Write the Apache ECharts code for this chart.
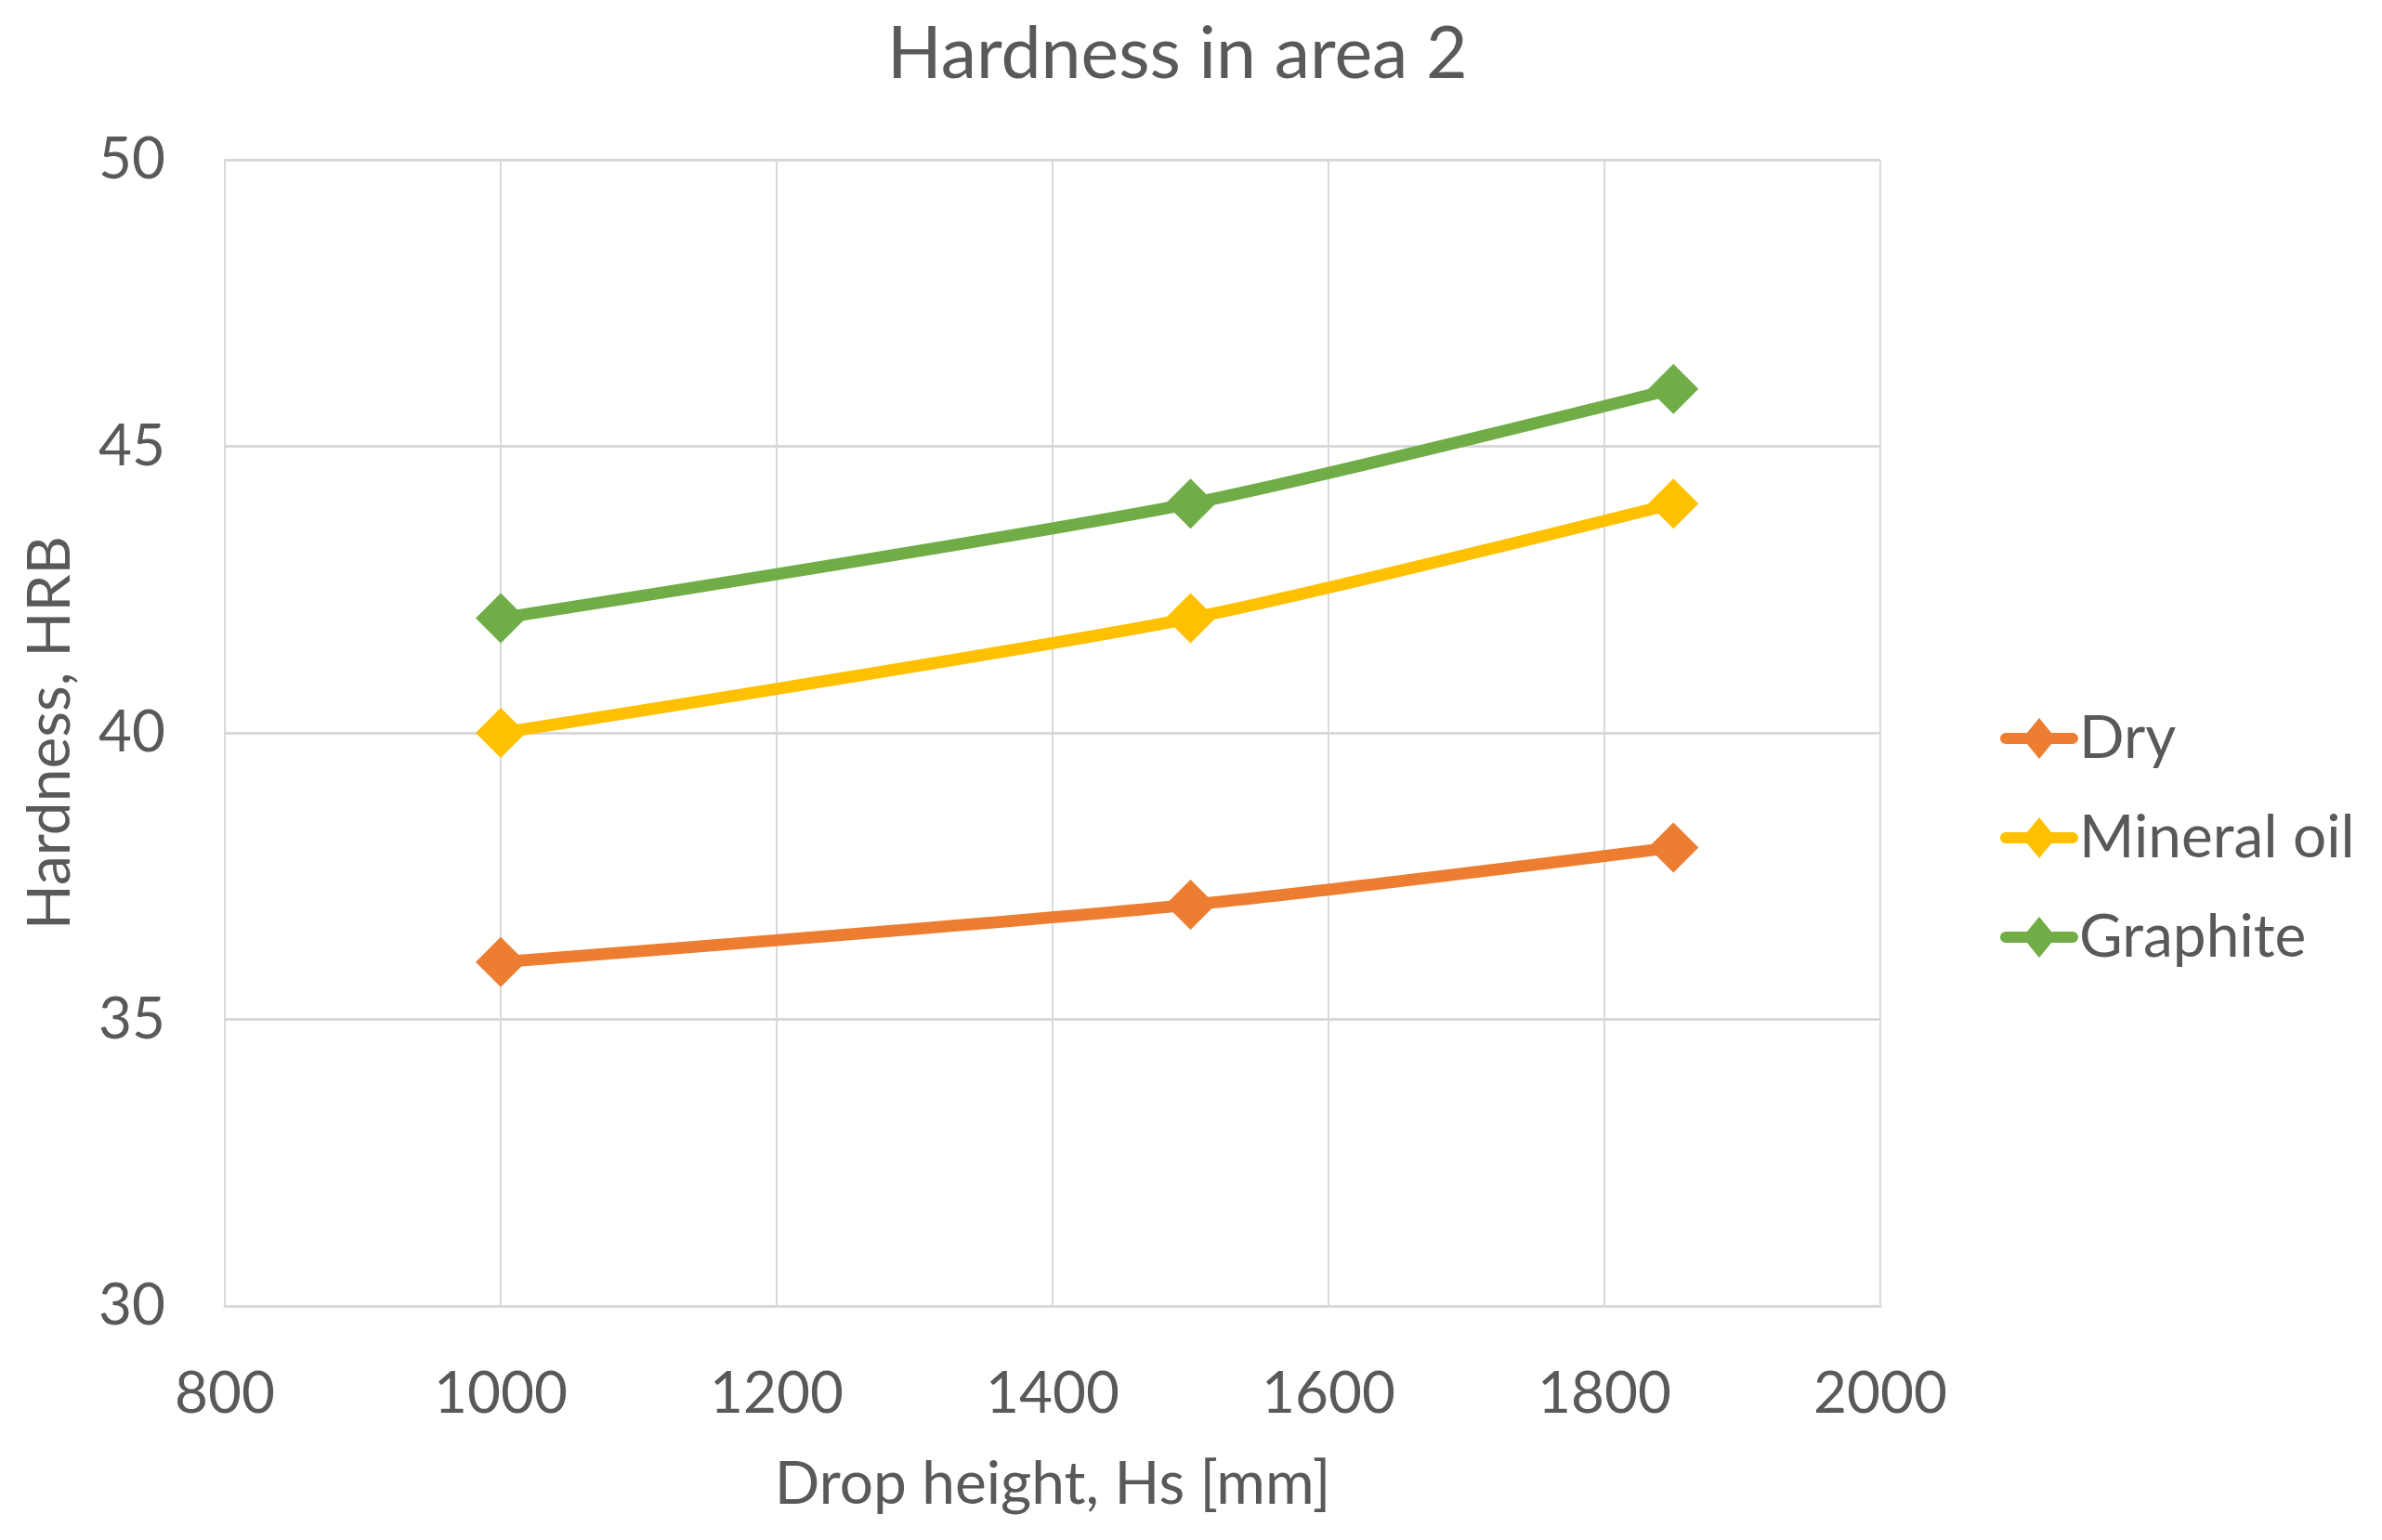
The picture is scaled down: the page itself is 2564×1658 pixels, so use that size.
<!DOCTYPE html>
<html>
<head>
<meta charset="utf-8">
<script src="https://cdn.jsdelivr.net/npm/echarts@6/dist/echarts.min.js"></script>
<style>
html,body{margin:0;padding:0;background:#fff;}
#chart{width:2564px;height:1658px;}
</style>
</head>
<body>
<div id="chart"></div>
<script>
const dropHeights = [1000, 1500, 1850];
const dryValues = [36, 37, 38];
const mineralOilValues = [40, 42, 44];
const graphiteValues = [42, 44, 46];
const seriesNames = ['Dry', 'Mineral oil', 'Graphite'];
const seriesColors = ['#ED7D31', '#FFC000', '#70AD47'];

const textColor = '#595959';
const fontFamily = 'Lato, "Open Sans", sans-serif';
const legendIcon = 'path://M6,16 L78,16 A6,6 0 0 1 78,28 L6,28 A6,6 0 0 1 6,16 Z M42,0 L60,22 L42,44 L24,22 Z';

function mk(name, vals, color) {
  return {
    name: name,
    type: 'line',
    data: dropHeights.map((x, i) => [x, vals[i]]),
    smooth: 0.25,
    symbol: 'diamond',
    symbolSize: 54,
    lineStyle: { color: color, width: 13 },
    itemStyle: { color: color },
    z: 3
  };
}

const chart = echarts.init(document.getElementById('chart'));
chart.setOption({
  animation: false,
  backgroundColor: '#fff',
  title: {
    text: 'Hardness in area 2',
    left: 950,
    top: 16,
    textStyle: { color: textColor, fontSize: 77, fontWeight: 'normal', fontFamily: fontFamily }
  },
  grid: { left: 242, right: 540, top: 172, bottom: 252, containLabel: false },
  legend: {
    orient: 'vertical',
    left: 2148,
    top: 758,
    itemWidth: 84,
    itemHeight: 44,
    itemGap: 43,
    icon: legendIcon,
    data: seriesNames,
    textStyle: { color: textColor, fontSize: 64, fontFamily: fontFamily, lineHeight: 64, padding: [0, 0, 0, -4] }
  },
  xAxis: {
    type: 'value',
    min: 800, max: 2000, interval: 200,
    name: 'Drop height, Hs [mm]',
    nameLocation: 'middle',
    nameGap: 160,
    nameTextStyle: { color: textColor, fontSize: 64, fontFamily: fontFamily },
    axisLine: { show: true, lineStyle: { color: '#D9D9D9', width: 3 } },
    axisTick: { show: false },
    axisLabel: { color: textColor, fontSize: 62, fontFamily: fontFamily, margin: 64, formatter: v => String(v) },
    splitLine: { show: true, lineStyle: { color: '#D9D9D9', width: 2 } }
  },
  yAxis: {
    type: 'value',
    min: 30, max: 50, interval: 5,
    name: 'Hardness, HRB',
    nameLocation: 'middle',
    nameRotate: 90,
    nameGap: 156,
    nameTextStyle: { color: textColor, fontSize: 64, fontFamily: fontFamily },
    axisLine: { show: true, lineStyle: { color: '#D9D9D9', width: 2 } },
    axisTick: { show: false },
    axisLabel: { color: textColor, fontSize: 62, fontFamily: fontFamily, margin: 64, formatter: v => String(v) },
    splitLine: { show: true, lineStyle: { color: '#D9D9D9', width: 3 } }
  },
  series: [
    mk(seriesNames[0], dryValues, seriesColors[0]),
    mk(seriesNames[1], mineralOilValues, seriesColors[1]),
    mk(seriesNames[2], graphiteValues, seriesColors[2])
  ]
});
</script>
</body>
</html>
